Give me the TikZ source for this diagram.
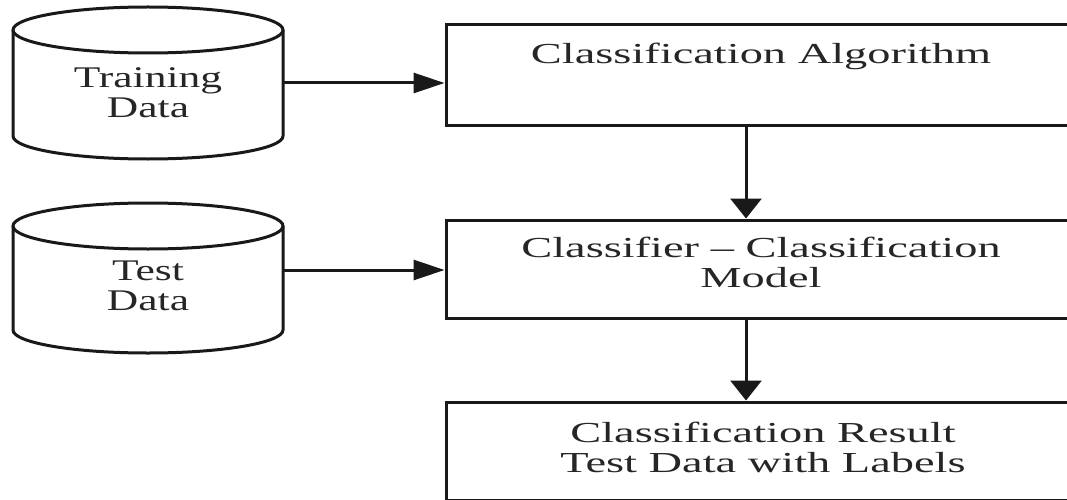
\documentclass[tikz,border=0pt]{standalone}
\usepackage{fontspec}
\setmainfont{Liberation Serif}
\usepackage{graphicx}
\usetikzlibrary{arrows.meta}
\newcommand{\boxtxt}[1]{\scalebox{1.6}[1]{\fontsize{29}{30}\selectfont\begin{tabular}[t]{@{}c@{}}#1\end{tabular}}}
\newcommand{\cyltxt}[1]{\scalebox{1.45}[1]{\fontsize{30}{30}\selectfont\begin{tabular}[t]{@{}c@{}}#1\end{tabular}}}
\begin{document}
\begin{tikzpicture}[x=1pt,y=-1pt,
  line/.style={line width=3pt, black!90},
  procbox/.style={line, draw, rectangle, inner sep=0pt, minimum width=630pt},
  cylbody/.style={inner sep=0pt, minimum width=270pt},
  txt/.style={inner sep=0pt, anchor=base, text=black!85},
  harrow/.style={line, -{Triangle[length=31pt,width=20pt]}},
  varrow/.style={line, -{Triangle[length=20pt,width=31pt]}}]
\useasboundingbox (0,0) rectangle (1067,500);
\fill[white] (0,0) rectangle (1067,500);
\clip (0,0) rectangle (1067,500);
% cylinders
\draw[line] (13,30) -- (13,136) arc[start angle=180, end angle=0, x radius=135, y radius=23] -- (283,30);
\draw[line] (148,30) ellipse[x radius=135, y radius=23];
\node[cylbody, minimum height=152pt] (train) at (148,83) {};
\node[txt] (traintxt) at (148,88) {\cyltxt{Training\\Data}};
\draw[line] (13,226) -- (13,330) arc[start angle=180, end angle=0, x radius=135, y radius=23] -- (283,226);
\draw[line] (148,226) ellipse[x radius=135, y radius=23];
\node[cylbody, minimum height=150pt] (test) at (148,270) {};
\node[txt] (testtxt) at (148,280) {\cyltxt{Test\\Data}};
% boxes
\node[procbox, minimum height=100pt] (algo) at (761,75) {};
\node[txt] (algotxt) at (761,64) {\boxtxt{Classification Algorithm}};
\node[procbox, minimum height=98pt] (model) at (761,269) {};
\node[txt] (modeltxt) at (761,257) {\boxtxt{Classifier -- Classification\\Model}};
\node[procbox, minimum height=98pt] (result) at (761,451) {};
\node[txt] (resulttxt) at (763,442) {\boxtxt{Classification Result\\Test Data with Labels}};
% connectors
\coordinate (vx) at (746,0);
\draw[harrow] (train.east) -- (train.east -| algo.west);
\draw[harrow] (test.east) -- (test.east -| model.west);
\draw[varrow] (algo.south -| vx) -- (model.north -| vx);
\draw[varrow] (model.south -| vx) -- (result.north -| vx);
\end{tikzpicture}
\end{document}
